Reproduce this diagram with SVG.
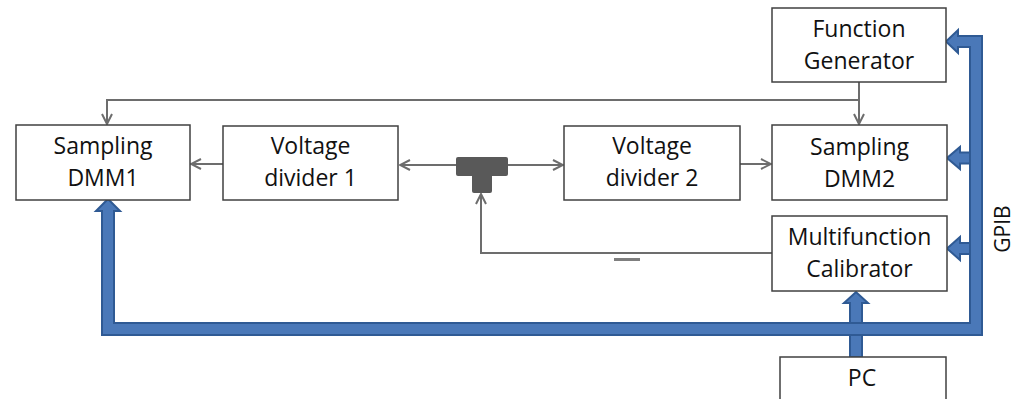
<svg xmlns="http://www.w3.org/2000/svg" width="1016" height="399" viewBox="0 0 1016 399">
<defs>
<style>
.box{fill:#fff;stroke:#404040;stroke-width:1.5}
.lbl{font-family:"Open Sans","Liberation Sans",sans-serif;font-size:23px;fill:#111;text-anchor:middle}
.con{fill:none;stroke:#6d6d6d;stroke-width:2}
.bus{fill:#4a78b8;stroke:#2f5a94;stroke-width:2;stroke-linejoin:miter}
</style>
<marker id="ah" viewBox="0 0 12 12" refX="11" refY="6" markerWidth="12" markerHeight="12" markerUnits="userSpaceOnUse" orient="auto">
<polyline points="1,1 11,6 1,11" fill="none" stroke="#6d6d6d" stroke-width="2"/>
</marker>
</defs>
<rect width="1016" height="399" fill="#fff"/>
<g id="connectors">
<path class="con" d="M859,82 V124" marker-end="url(#ah)"/>
<path class="con" d="M859,100 H107 V124" marker-end="url(#ah)"/>
<path class="con" d="M223,164 H191" marker-end="url(#ah)"/>
<path class="con" d="M456,165 H400" marker-end="url(#ah)"/>
<path class="con" d="M508,165 H563" marker-end="url(#ah)"/>
<path class="con" d="M740,164 H771" marker-end="url(#ah)"/>
<path class="con" d="M772,253 H481 V194" marker-end="url(#ah)"/>
<line x1="614" y1="259.5" x2="640" y2="259.5" stroke="#7f7f7f" stroke-width="3"/>
</g>
<g id="tee">
<rect x="456" y="157" width="52" height="19" rx="2" fill="#595959"/>
<rect x="472" y="170" width="20" height="23" rx="2" fill="#595959"/>
</g>
<g id="gpib-bus">
<polygon class="bus" points="850,357 862,357 862,303 868,303 856,292 844,303 850,303"/>
<polygon class="bus" points="108,199 120,211 114,211 114,323 970,323 970,47 958,47 958,53 946,41.5 958,30 958,36 982,36 982,335 102,335 102,211 96,211"/>
<polygon class="bus" points="970,152.5 960,152.5 960,147 947,158 960,169 960,163.5 970,163.5"/>
<polygon class="bus" points="970,243 960,243 960,237 947,248.5 960,260 960,254 970,254"/>
<text x="0" y="0" transform="translate(1010,229) rotate(-90)" font-family="'Open Sans','Liberation Sans',sans-serif" font-size="21" fill="#111" text-anchor="middle">GPIB</text>
</g>
<g id="function-generator">
<rect class="box" x="772" y="8" width="174" height="74"/>
<text class="lbl" x="859" y="37">Function</text>
<text class="lbl" x="859" y="69">Generator</text>
</g>
<g id="sampling-dmm1">
<rect class="box" x="16" y="125" width="174" height="75"/>
<text class="lbl" x="103" y="154">Sampling</text>
<text class="lbl" x="103" y="186">DMM1</text>
</g>
<g id="voltage-divider-1">
<rect class="box" x="223" y="126" width="175" height="74"/>
<text class="lbl" x="310.5" y="154">Voltage</text>
<text class="lbl" x="310.5" y="186">divider 1</text>
</g>
<g id="voltage-divider-2">
<rect class="box" x="564" y="126" width="176" height="74"/>
<text class="lbl" x="652" y="154">Voltage</text>
<text class="lbl" x="652" y="186">divider 2</text>
</g>
<g id="sampling-dmm2">
<rect class="box" x="772" y="125" width="175" height="75"/>
<text class="lbl" x="859.5" y="155">Sampling</text>
<text class="lbl" x="859.5" y="187">DMM2</text>
</g>
<g id="multifunction-calibrator">
<rect class="box" x="772" y="216" width="175" height="75"/>
<text class="lbl" x="859.5" y="245">Multifunction</text>
<text class="lbl" x="859.5" y="277">Calibrator</text>
</g>
<g id="pc">
<rect class="box" x="780" y="357" width="166" height="60"/>
<text class="lbl" x="862" y="386">PC</text>
</g>
</svg>
